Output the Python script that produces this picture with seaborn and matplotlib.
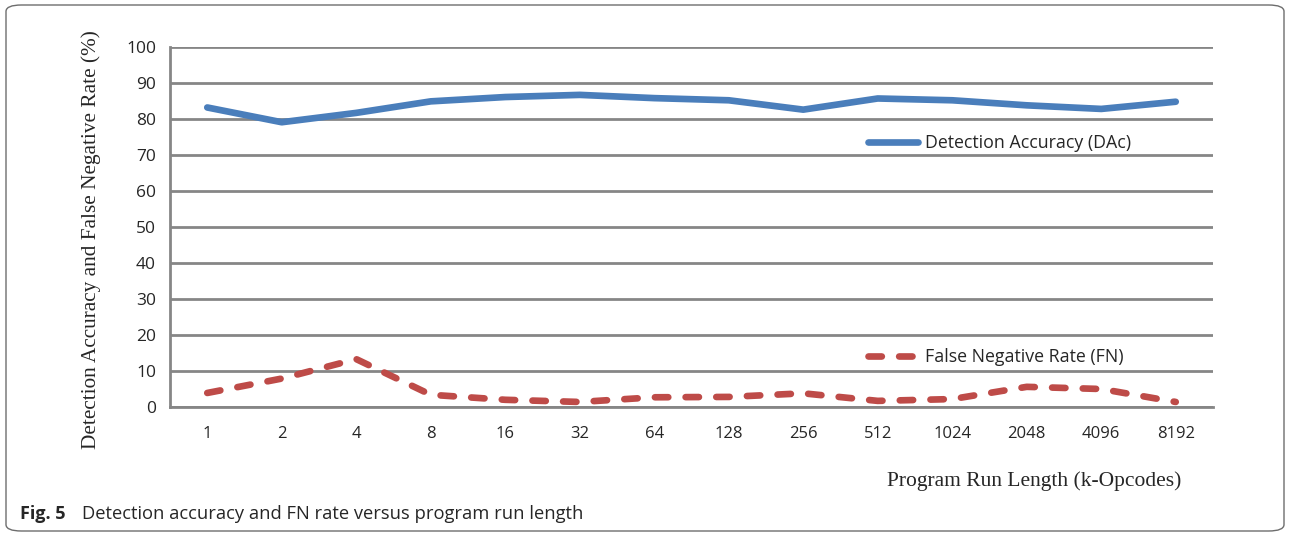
import numpy as np
import pandas as pd
import matplotlib
matplotlib.use("Agg")
import matplotlib.pyplot as plt
from matplotlib.patches import FancyBboxPatch
from matplotlib.lines import Line2D
import seaborn as sns

run_length = ["1", "2", "4", "8", "16", "32", "64", "128", "256", "512",
              "1024", "2048", "4096", "8192"]
dac = [83.2, 79.1, 81.7, 84.9, 86.1, 86.7, 85.8, 85.2, 82.6, 85.7,
       85.2, 83.8, 82.8, 84.8]
fn = [3.9, 7.9, 13.3, 3.4, 2.0, 1.4, 2.7, 2.8, 3.8, 1.7, 2.2, 5.6, 5.0, 1.4]

df = pd.DataFrame({"run": run_length, "DAc": dac, "FN": fn})

sns.set_style("white")
plt.rcParams["font.family"] = ["Open Sans", "DejaVu Sans"]

blue = "#4A7EBB"
red = "#BE4B48"
grey = "#868686"
dash = (0, (2.0, 2.6))
lw = 4.8

fig = plt.figure(figsize=(12.9, 5.35), dpi=100)
ax = fig.add_axes([170/1290, 1 - 407/535, (1213-170)/1290, 360/535])

sns.lineplot(data=df, x="run", y="DAc", sort=False, ax=ax, color=blue,
             lw=lw, solid_capstyle="round")
sns.lineplot(data=df, x="run", y="FN", sort=False, ax=ax, color=red,
             lw=lw, dashes=False)
ax.lines[-1].set_linestyle(dash)
ax.lines[-1].set_dash_capstyle("round")

ax.set_xlim(-0.5, len(run_length) - 0.5)
ax.set_ylim(0, 100)
ax.set_yticks(np.arange(0, 101, 10))
ax.yaxis.grid(True, color=grey, lw=2)
ax.set_axisbelow(True)
ax.set_xticks(range(len(run_length)))
ax.set_xticklabels(run_length)
ax.set_xticks(np.arange(-0.5, len(run_length)), minor=True)
ax.tick_params(axis="x", which="major", length=0, pad=14, labelsize=12)
ax.tick_params(axis="x", which="minor", length=7, width=2, color=grey,
               direction="out")
ax.tick_params(axis="y", length=6, width=2, color=grey, direction="out",
               labelsize=12.5, pad=4)
for s in ["top", "right"]:
    ax.spines[s].set_visible(False)
for s in ["left", "bottom"]:
    ax.spines[s].set_color(grey)
    ax.spines[s].set_linewidth(2)

ax.set_xlabel("")
ax.set_ylabel("Detection Accuracy and False Negative Rate (%)",
              family="Liberation Serif", fontsize=15.3)
ax.yaxis.set_label_coords(-0.066, 0.465)

h1 = [Line2D([], [], color=blue, lw=lw, solid_capstyle="round")]
leg1 = ax.legend(h1, ["Detection Accuracy (DAc)"], loc="center left",
                 bbox_to_anchor=(0.654, 0.733), frameon=False,
                 fontsize=12.8, handlelength=2.8, handletextpad=0.4)
ax.add_artist(leg1)
h2 = [Line2D([], [], color=red, lw=lw, ls=dash, dash_capstyle="round")]
ax.legend(h2, ["False Negative Rate (FN)"], loc="center left",
          bbox_to_anchor=(0.654, 0.139), frameon=False,
          fontsize=12.8, handlelength=2.8, handletextpad=0.4)

fig.text(1034/1290, 1 - 481/535, "Program Run Length (k-Opcodes)",
         family="Liberation Serif", fontsize=15.5, ha="center", va="center")

fig.text(20/1290, 1 - 514/535, "Fig. 5", fontsize=13, weight="bold",
         va="center", ha="left")
fig.text(82/1290, 1 - 514/535,
         "Detection accuracy and FN rate versus program run length",
         fontsize=13.2, va="center", ha="left")

frame = FancyBboxPatch((6/1290, 4/535), 1278/1290, 526/535,
                       boxstyle="round,pad=0,rounding_size=0.012",
                       transform=fig.transFigure, fill=False,
                       edgecolor="#6d6d6d", lw=1)
fig.patches.append(frame)

fig.savefig("out.png", dpi=100)
